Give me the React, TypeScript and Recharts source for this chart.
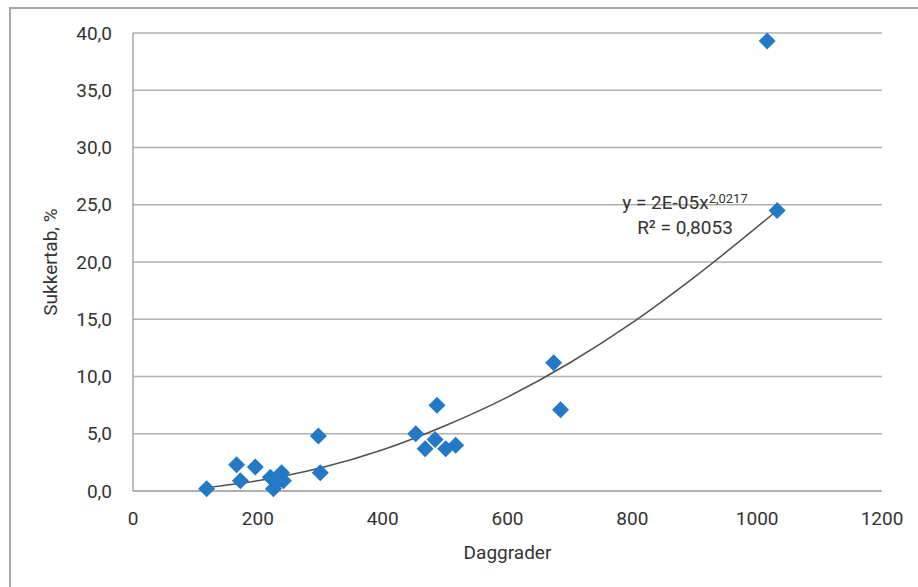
import {
  ComposedChart,
  Scatter,
  Line,
  XAxis,
  YAxis,
  CartesianGrid,
  Label,
} from "recharts";

// Daggrader (x) og sukkertab % (y) for hvert målepunkt
const dayDegrees = [118, 166, 172, 196, 220, 225, 230, 238, 241, 297, 300, 453, 468, 484, 487, 501, 517, 674, 685, 1016, 1032];
const sugerLoss = [0.2, 2.3, 0.9, 2.1, 1.2, 0.2, 0.7, 1.6, 0.9, 4.8, 1.6, 5.0, 3.7, 4.5, 7.5, 3.7, 4.0, 11.2, 7.1, 39.3, 24.5];

// trendlinjen som den er aflæst på figuren
const trendX = [118, 200, 300, 400, 500, 600, 700, 800, 900, 1032];
const trendY = [0.3, 0.9, 2.0, 3.6, 5.7, 8.2, 11.2, 14.7, 18.7, 24.5];

const xTicks = [0, 200, 400, 600, 800, 1000, 1200];
const yTicks = [0, 5, 10, 15, 20, 25, 30, 35, 40];

const points = dayDegrees.map((x, i) => ({ x, y: sugerLoss[i] }));
const trend = trendX.map((x, i) => ({ x, y: trendY[i] }));

const BLUE = "#2279c6";
const TEXT = "#333";
const FONT = "Roboto, 'Liberation Sans', sans-serif";

function Diamond(props: any) {
  const { cx, cy } = props;
  const r = 8.5;
  return (
    <path
      d={`M${cx},${cy - r}L${cx + r},${cy}L${cx},${cy + r}L${cx - r},${cy}Z`}
      fill={BLUE}
    />
  );
}

export default function App() {
  return (
    <div
      style={{
        position: "absolute",
        left: 0,
        top: 0,
        width: 918,
        height: 587,
        background: "#fff",
        fontFamily: FONT,
      }}
    >
      {/* ramme */}
      <div style={{ position: "absolute", left: 9, top: 7, width: 909, height: 2, background: "#a8a8a8" }} />
      <div style={{ position: "absolute", left: 9, top: 7, width: 2, height: 580, background: "#a8a8a8" }} />

      <ComposedChart
        width={918}
        height={587}
        margin={{ top: 33, right: 36, bottom: 56, left: 73 }}
        style={{ fontFamily: FONT }}
      >
        <CartesianGrid vertical={false} stroke="#b0b0b0" strokeWidth={1.5} />
        <XAxis
          type="number"
          dataKey="x"
          domain={[0, 1200]}
          ticks={xTicks}
          height={40}
          tickSize={0}
          tickMargin={21}
          axisLine={{ stroke: "#a8a8a8", strokeWidth: 1.5 }}
          tickLine={false}
          tick={{ fill: TEXT, fontSize: 19 }}
        >
          <Label value="Daggrader" position="bottom" offset={15} fill={TEXT} fontSize={19} />
        </XAxis>
        <YAxis
          type="number"
          dataKey="y"
          domain={[0, 40]}
          ticks={yTicks}
          width={60}
          tickSize={0}
          tickMargin={21}
          axisLine={{ stroke: "#a8a8a8", strokeWidth: 1.5 }}
          tickLine={false}
          tick={{ fill: TEXT, fontSize: 19 }}
          tickFormatter={(v: number) => v.toFixed(1).replace(".", ",")}
        >
          <Label
            content={({ viewBox }: any) => {
              const cx = viewBox.x - 21;
              const cy = viewBox.y + viewBox.height / 2;
              return (
                <text
                  x={cx}
                  y={cy}
                  transform={`rotate(-90, ${cx}, ${cy})`}
                  textAnchor="middle"
                  dominantBaseline="middle"
                  fill={TEXT}
                  fontSize={19}
                >
                  Sukkertab, %
                </text>
              );
            }}
          />
        </YAxis>
        <Scatter data={points} dataKey="y" shape={<Diamond />} isAnimationActive={false} />
        <Line
          data={trend}
          dataKey="y"
          type="monotone"
          dot={false}
          activeDot={false}
          stroke="#505050"
          strokeWidth={1.5}
          isAnimationActive={false}
        />
      </ComposedChart>

      {/* trendlinjens ligning */}
      <div
        style={{
          position: "absolute",
          left: 595,
          top: 190,
          width: 180,
          textAlign: "center",
          color: TEXT,
          fontSize: 19,
          lineHeight: "25px",
        }}
      >
        <div>
          y = 2E-05x<sup style={{ fontSize: 13, verticalAlign: "6px", lineHeight: 0 }}>2,0217</sup>
        </div>
        <div>R² = 0,8053</div>
      </div>
    </div>
  );
}
